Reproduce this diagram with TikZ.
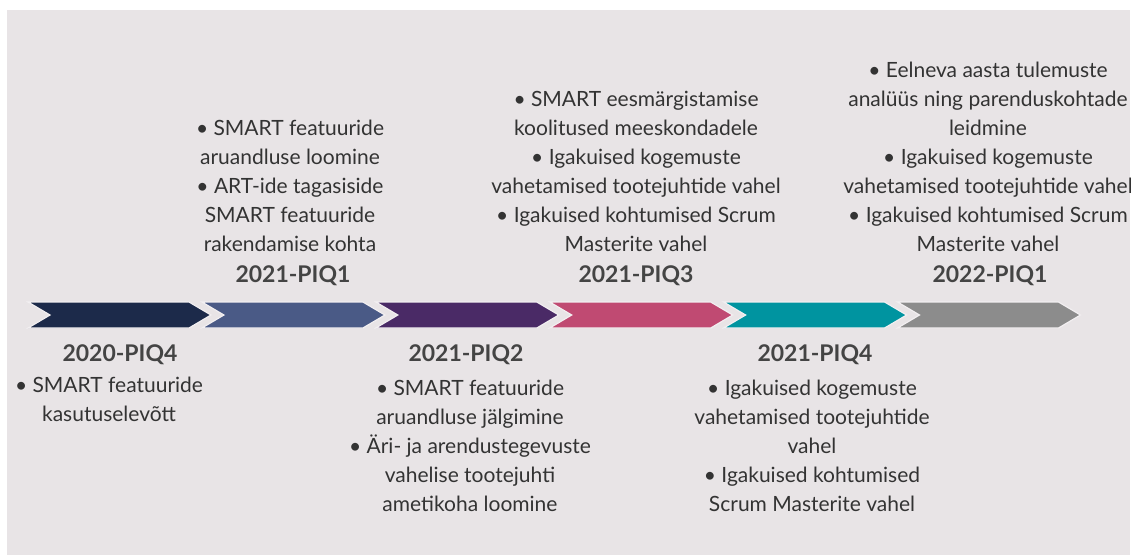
\documentclass[tikz,border=0pt]{standalone}
\usepackage{fontspec}
\setmainfont{Lato}
\definecolor{panel}{HTML}{E8E4E6}
\definecolor{gapline}{HTML}{F2EFF1}
\definecolor{txt}{HTML}{333333}
\definecolor{head}{HTML}{444444}
\definecolor{cA}{HTML}{1C2A4A}
\definecolor{cB}{HTML}{4A5A86}
\definecolor{cC}{HTML}{4A2A66}
\definecolor{cD}{HTML}{C04A72}
\definecolor{cE}{HTML}{0094A0}
\definecolor{cF}{HTML}{8C8C8C}
\begin{document}
\begin{tikzpicture}[x=1pt,y=-1pt,
  body/.style={align=center,inner sep=0pt,text=txt,
    font=\fontsize{21}{29}\selectfont},
  phase/.style={inner sep=0pt,text=head,
    font=\fontsize{23}{26}\selectfont\bfseries},
  chev/.style={draw=gapline,line width=1.2pt,line join=miter}]
% canvas and panel
\fill[white] (0,0) rectangle (1131,555);
\fill[panel] (7,10) rectangle (1130,555);
\useasboundingbox (0,0) rectangle (1131,555);
% timeline chevrons
\foreach \c [count=\i from 0] in {cA,cB,cC,cD,cE,cF}{
  \pgfmathsetmacro{\xo}{28+173.9*\i}
  \filldraw[chev,fill=\c] (\xo,302) -- (\xo+161,302) -- (\xo+183,315)
    -- (\xo+161,328) -- (\xo,328) -- (\xo+22,315) -- cycle;
}
% 2020-PIQ4
\node[phase] (h1) at (120,355) {2020-PIQ4};
\node[body] (t1) at (109,399.5) {• SMART featuuride\\kasutuselevõtt};
% 2021-PIQ1
\node[body] (t2) at (290,186) {• SMART featuuride\\aruandluse loomine\\• ART-ide tagasiside\\SMART featuuride\\rakendamise kohta};
\node[phase] (h2) at (293,276) {2021-PIQ1};
% 2021-PIQ2
\node[phase] (h3) at (466,355) {2021-PIQ2};
\node[body] (t3) at (470,446) {• SMART featuuride\\aruandluse jälgimine\\• Äri- ja arendustegevuste\\vahelise tootejuhti\\ametikoha loomine};
% 2021-PIQ3
\node[body] (t4) at (636,171.5) {• SMART eesmärgistamise\\koolitused meeskondadele\\• Igakuised kogemuste\\vahetamised tootejuhtide vahel\\• Igakuised kohtumised Scrum\\Masterite vahel};
\node[phase] (h4) at (636,276) {2021-PIQ3};
% 2021-PIQ4
\node[phase] (h5) at (815,355) {2021-PIQ4};
\node[body] (t5) at (812,446) {• Igakuised kogemuste\\vahetamised tootejuhtide\\vahel\\• Igakuised kohtumised\\Scrum Masterite vahel};
% 2022-PIQ1
\node[body] (t6) at (988,157) {• Eelneva aasta tulemuste\\analüüs ning parenduskohtade\\leidmine\\• Igakuised kogemuste\\vahetamised tootejuhtide vahel\\• Igakuised kohtumised Scrum\\Masterite vahel};
\node[phase] (h6) at (990,276) {2022-PIQ1};
\end{tikzpicture}
\end{document}
